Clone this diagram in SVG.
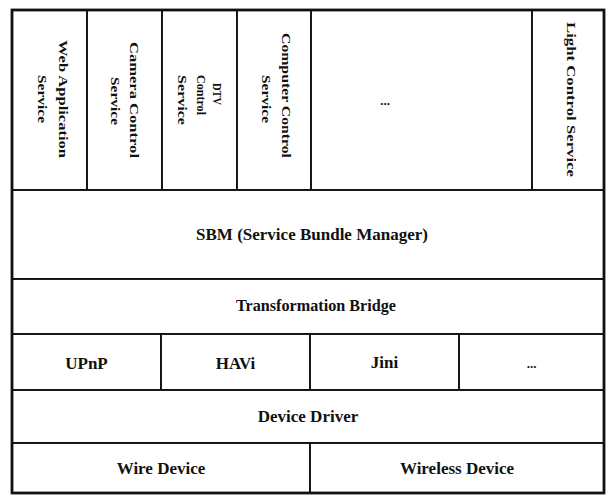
<svg xmlns="http://www.w3.org/2000/svg" width="607" height="496" viewBox="0 0 607 496">
  <style>
    .cell { fill: #ffffff; stroke: #111111; stroke-width: 1.9; }
    .frame { fill: none; stroke: #111111; stroke-width: 2.8; }
    .lbl { font-family: "Liberation Serif", "Times New Roman", serif; font-weight: bold; fill: #111111; }
    .h { font-size: 17px; text-anchor: middle; }
    .v { font-size: 13px; }
    .dots { font-size: 13px; text-anchor: middle; }
  </style>
  <rect x="0" y="0" width="607" height="496" fill="#ffffff"/>

  <!-- service bundles -->
  <g id="web-application-service">
    <rect class="cell" x="12" y="10" width="75" height="180"/>
    <text class="lbl v" transform="translate(58.5,40) rotate(90)" textLength="118" lengthAdjust="spacingAndGlyphs">Web Application</text>
    <text class="lbl v" transform="translate(37.5,75) rotate(90)" textLength="48" lengthAdjust="spacingAndGlyphs">Service</text>
  </g>
  <g id="camera-control-service">
    <rect class="cell" x="87" y="10" width="75" height="180"/>
    <text class="lbl v" transform="translate(129.5,42) rotate(90)" textLength="116" lengthAdjust="spacingAndGlyphs">Camera Control</text>
    <text class="lbl v" transform="translate(111,77) rotate(90)" textLength="48" lengthAdjust="spacingAndGlyphs">Service</text>
  </g>
  <g id="dtv-control-service">
    <rect class="cell" x="162" y="10" width="75" height="180"/>
    <text class="lbl v" transform="translate(213,83) rotate(90)" textLength="22" lengthAdjust="spacingAndGlyphs">DTV</text>
    <text class="lbl v" transform="translate(197,75) rotate(90)" textLength="40" lengthAdjust="spacingAndGlyphs">Control</text>
    <text class="lbl v" transform="translate(178,75) rotate(90)" textLength="50" lengthAdjust="spacingAndGlyphs">Service</text>
  </g>
  <g id="computer-control-service">
    <rect class="cell" x="237" y="10" width="74" height="180"/>
    <text class="lbl v" transform="translate(282,33) rotate(90)" textLength="125" lengthAdjust="spacingAndGlyphs">Computer Control</text>
    <text class="lbl v" transform="translate(262,75) rotate(90)" textLength="48" lengthAdjust="spacingAndGlyphs">Service</text>
  </g>
  <g id="more-services">
    <rect class="cell" x="311" y="10" width="221" height="180"/>
    <text class="lbl dots" x="385" y="105">...</text>
  </g>
  <g id="light-control-service">
    <rect class="cell" x="532" y="10" width="72" height="180"/>
    <text class="lbl v" transform="translate(566.5,22) rotate(90)" textLength="155" lengthAdjust="spacingAndGlyphs">Light Control Service</text>
  </g>

  <!-- middleware layers -->
  <g id="sbm">
    <rect class="cell" x="12" y="190" width="592" height="89"/>
    <text class="lbl h" x="312" y="240">SBM (Service Bundle Manager)</text>
  </g>
  <g id="transformation-bridge">
    <rect class="cell" x="12" y="279" width="592" height="55"/>
    <text class="lbl h" x="316" y="311" textLength="160" lengthAdjust="spacingAndGlyphs">Transformation Bridge</text>
  </g>

  <!-- protocols -->
  <g id="upnp">
    <rect class="cell" x="12" y="334" width="149" height="56"/>
    <text class="lbl h" x="86.5" y="369">UPnP</text>
  </g>
  <g id="havi">
    <rect class="cell" x="161" y="334" width="149" height="56"/>
    <text class="lbl h" x="235.5" y="369">HAVi</text>
  </g>
  <g id="jini">
    <rect class="cell" x="310" y="334" width="149" height="56"/>
    <text class="lbl h" x="384.5" y="368">Jini</text>
  </g>
  <g id="more-protocols">
    <rect class="cell" x="459" y="334" width="145" height="56"/>
    <text class="lbl dots" x="531.5" y="368">...</text>
  </g>

  <!-- drivers and devices -->
  <g id="device-driver">
    <rect class="cell" x="12" y="390" width="592" height="53"/>
    <text class="lbl h" x="308" y="422">Device Driver</text>
  </g>
  <g id="wire-device">
    <rect class="cell" x="12" y="443" width="298" height="50"/>
    <text class="lbl h" x="161" y="474">Wire Device</text>
  </g>
  <g id="wireless-device">
    <rect class="cell" x="310" y="443" width="294" height="50"/>
    <text class="lbl h" x="457" y="474">Wireless Device</text>
  </g>

  <!-- stacked layers touch directly; no separate connector lines -->
  <g id="connectors"/>

  <rect class="frame" x="12" y="10" width="592" height="483"/>
</svg>
